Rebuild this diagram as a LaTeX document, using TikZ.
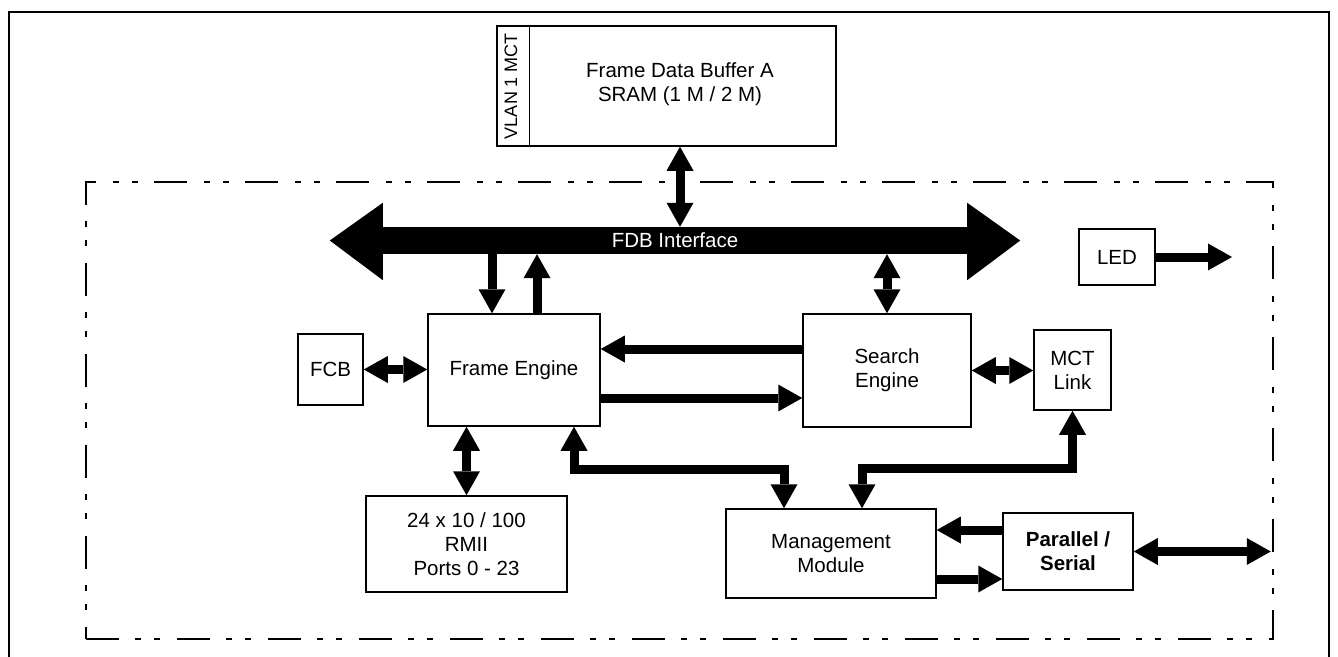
\documentclass[tikz,border=0pt]{standalone}
\usepackage{fontspec}
\setmainfont{Liberation Sans}
\usetikzlibrary{arrows.meta,calc}
\newcommand\mainfs{\fontsize{20.5}{24}\selectfont}
\begin{document}
\begin{tikzpicture}[x=1pt,y=-1pt,line join=miter,
  box/.style={draw,line width=1.5pt,inner sep=0pt,align=center,font=\mainfs},
  ar/.style={line width=9pt,-{Triangle[length=24pt,width=27pt,line width=0pt]}},
  ra/.style={line width=9pt,{Triangle[length=24pt,width=27pt,line width=0pt]}-},
  dar/.style={line width=9pt,{Triangle[length=24pt,width=27pt,line width=0pt]}-{Triangle[length=24pt,width=27pt,line width=0pt]}},
  frm/.style={draw,line width=1.5pt,dash pattern=on 33pt off 16pt on 6pt off 13pt on 6pt off 17pt}]
\useasboundingbox (0,0) rectangle (1338,656);
% outer frame
\draw[line width=2.5pt] (9,662) -- (9,12) -- (1329,12) -- (1329,662);
% dashed chip frame
\node[frm,minimum width=1187,minimum height=457,inner sep=0pt] (frame) at (679.5,410.5) {};
% buffer
\node[box,minimum width=339,minimum height=120] (buf) at (666.5,86) {};
\draw[line width=1.5pt] ([xshift=33]buf.north west) -- ([xshift=33]buf.south west);
\node[font=\fontsize{18}{20}\selectfont,rotate=90] (vlan) at (511,86) {VLAN 1 MCT};
\node[align=center,font=\mainfs] (buftxt) at (680,84) {Frame Data Buffer A\\SRAM (1 M / 2 M)};
% FDB bus
\node[fill=black,text=white,font=\mainfs,minimum width=586,minimum height=27,inner sep=0pt] (fdb) at (675,240.5) {FDB Interface};
\fill ($(fdb.north west)+(1,-24)$) -- ($(fdb.west)+(-52,0)$) -- ($(fdb.south west)+(1,26)$) -- cycle;
\fill ($(fdb.north east)+(-1,-24)$) -- ($(fdb.east)+(52,0)$) -- ($(fdb.south east)+(-1,26)$) -- cycle;
% blocks
\node[box,minimum width=172,minimum height=112] (fe) at (514,370) {Frame Engine};
\node[box,minimum width=65,minimum height=71] (fcb) at (330.5,369.5) {FCB};
\node[box,minimum width=168,minimum height=113] (se) at (887,370.5) {Search\\Engine};
\node[box,minimum width=77,minimum height=80] (mct) at (1072.5,370) {MCT\\Link};
\node[box,minimum width=76,minimum height=56] (led) at (1117,257) {LED};
\node[box,minimum width=201,minimum height=96] (rmii) at (466.5,544) {24 x 10 / 100\\RMII\\Ports 0 - 23};
\node[box,minimum width=210,minimum height=89] (mm) at (831,553.5) {Management\\Module};
\node[box,minimum width=130,minimum height=77,font=\mainfs\bfseries] (ps) at (1068,551.5) {Parallel /\\Serial};
\coordinate (ledout) at (1232,257);
% connectors
\draw[dar] (buf.south -| buftxt) -- (fdb.north -| buftxt);
\path ($(fe.north)+(-22,0)$) coordinate (fe1);
\draw[ra] (fe1) -- (fe1 |- fdb.south);
\path ($(fe.north)+(23,0)$) coordinate (fe2);
\draw[ar] (fe2) -- (fe2 |- fdb.south);
\draw[dar] (se.north) -- (se.north |- fdb.south);
\path ($(fe.east)+(0,-21)$) coordinate (fe3);
\draw[ra] (fe3) -- (fe3 -| se.west);
\path ($(fe.east)+(0,28)$) coordinate (fe4);
\draw[ar] (fe4) -- (fe4 -| se.west);
\draw[dar] (fcb.east) -- (fcb.east -| fe.west);
\draw[dar] (se.east) -- (se.east -| mct.west);
\draw[dar] (rmii.north) -- (rmii.north |- fe.south);
\path ($(fe.south)+(60,0)$) coordinate (fe5);
\path ($(mm.north)+(-47,0)$) coordinate (mm1);
\draw[dar] (fe5) -- ++(0,43) -| (mm1);
\path ($(mm.north)+(31,0)$) coordinate (mm2);
\draw[dar] (mct.south) -- ++(0,58) -| (mm2);
\path ($(ps.west)+(0,-21.5)$) coordinate (ps1);
\draw[ar] (ps1) -- (ps1 -| mm.east);
\path ($(mm.east)+(0,25.5)$) coordinate (mm3);
\draw[ar] (mm3) -- (mm3 -| ps.west);
\draw[dar] (ps.east) -- ($(ps.east -| frame.east)+(-3,0)$);
\draw[ar] (led.east) -- (ledout);
\end{tikzpicture}
\end{document}
